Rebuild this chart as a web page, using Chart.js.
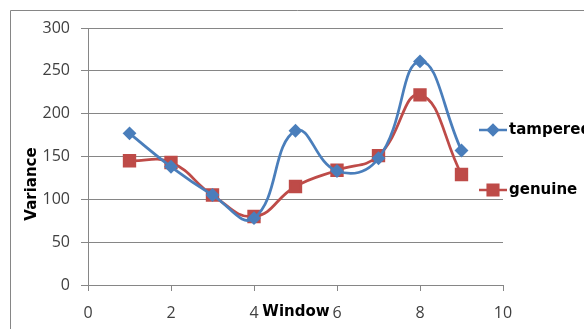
<!DOCTYPE html>
<html>
<head>
<meta charset="utf-8">
<script src="https://cdn.jsdelivr.net/npm/chart.js@4/dist/chart.umd.min.js"></script>
<style>
  html, body { margin: 0; padding: 0; background: #ffffff; }
  #wrap { width: 584px; height: 329px; position: relative; }
</style>
</head>
<body>
<div id="wrap"><canvas id="chart" width="584" height="329"></canvas></div>
<script>
// Variance per window for the two signal types
const windows  = [1, 2, 3, 4, 5, 6, 7, 8, 9];
const tampered = [177, 138, 105, 78, 180, 133, 148, 261, 157];
const genuine  = [145, 143, 105, 80, 115, 134, 151, 222, 129];

const seriesNames = ['tampered', 'genuine'];
const xTitle = 'Window';
const yTitle = 'Variance';

const BLUE = '#4a7ebb';
const RED = '#be4b48';
const GRID = '#868686';
const TICK_FONT = { family: '"Open Sans", "Liberation Sans", sans-serif', size: 16 };
const BOLD_FONT = 'bold 15px "DejaVu Sans", sans-serif';

function toPoints(xs, ys) {
  return xs.map((x, i) => ({ x: x, y: ys[i] }));
}

// Frame, axis titles and the side legend
const decorations = {
  id: 'decorations',
  beforeDraw(chart) {
    const ctx = chart.ctx;
    ctx.save();
    ctx.fillStyle = '#ffffff';
    ctx.fillRect(0, 0, chart.width, chart.height);
    ctx.strokeStyle = GRID;
    ctx.lineWidth = 1;
    ctx.beginPath();
    ctx.moveTo(10.5, chart.height);
    ctx.lineTo(10.5, 10.5);
    ctx.lineTo(chart.width, 10.5);
    ctx.stroke();
    ctx.restore();
  },
  afterDraw(chart) {
    const ctx = chart.ctx;
    ctx.save();
    ctx.fillStyle = '#000000';
    ctx.font = BOLD_FONT;
    ctx.textAlign = 'center';
    ctx.textBaseline = 'middle';
    ctx.fillText(xTitle, 296, 312);
    ctx.translate(32, 184);
    ctx.rotate(-Math.PI / 2);
    ctx.fillText(yTitle, 0, 0);
    ctx.restore();

    const rows = [130, 190];
    chart.data.datasets.forEach((ds, i) => {
      const y = rows[i];
      ctx.save();
      ctx.strokeStyle = ds.borderColor;
      ctx.lineWidth = 2.5;
      ctx.beginPath();
      ctx.moveTo(479, y);
      ctx.lineTo(507, y);
      ctx.stroke();
      ctx.fillStyle = ds.pointBackgroundColor;
      ctx.strokeStyle = ds.pointBorderColor;
      Chart.helpers.drawPoint(ctx, {
        pointStyle: ds.pointStyle,
        radius: ds.pointRadius,
        rotation: 0,
        borderWidth: 1
      }, 493, y);
      ctx.fillStyle = '#000000';
      ctx.font = BOLD_FONT;
      ctx.textAlign = 'left';
      ctx.textBaseline = 'middle';
      ctx.fillText(seriesNames[i], 509, y);
      ctx.restore();
    });
  }
};

new Chart(document.getElementById('chart'), {
  type: 'line',
  data: {
    datasets: [
      {
        label: seriesNames[0],
        data: toPoints(windows, tampered),
        borderColor: BLUE,
        backgroundColor: BLUE,
        pointBackgroundColor: BLUE,
        pointBorderColor: BLUE,
        pointStyle: 'rectRot',
        pointRadius: 5,
        borderWidth: 2.75,
        tension: 0.45,
        fill: false
      },
      {
        label: seriesNames[1],
        data: toPoints(windows, genuine),
        borderColor: RED,
        backgroundColor: RED,
        pointBackgroundColor: RED,
        pointBorderColor: RED,
        pointStyle: 'rect',
        pointRadius: 7.5,
        borderWidth: 2.75,
        tension: 0.45,
        fill: false
      }
    ]
  },
  options: {
    responsive: false,
    animation: false,
    events: [],
    layout: { padding: { left: 0, right: 81, top: 28, bottom: 0 } },
    plugins: {
      legend: { display: false },
      tooltip: { enabled: false }
    },
    scales: {
      x: {
        type: 'linear',
        min: 0,
        max: 10,
        afterFit(scale) { scale.height = 44; },
        ticks: { stepSize: 2, color: '#404040', font: TICK_FONT, padding: 13, maxRotation: 0 },
        grid: { drawOnChartArea: false, drawTicks: true, tickLength: 6, color: GRID },
        border: { color: GRID, width: 1 }
      },
      y: {
        type: 'linear',
        min: 0,
        max: 300,
        afterFit(scale) { scale.width = 88; },
        ticks: { stepSize: 50, color: '#404040', font: TICK_FONT, padding: 11 },
        grid: { drawOnChartArea: true, drawTicks: true, tickLength: 7, color: GRID },
        border: { color: GRID, width: 1 }
      }
    }
  },
  plugins: [decorations]
});
</script>
</body>
</html>
